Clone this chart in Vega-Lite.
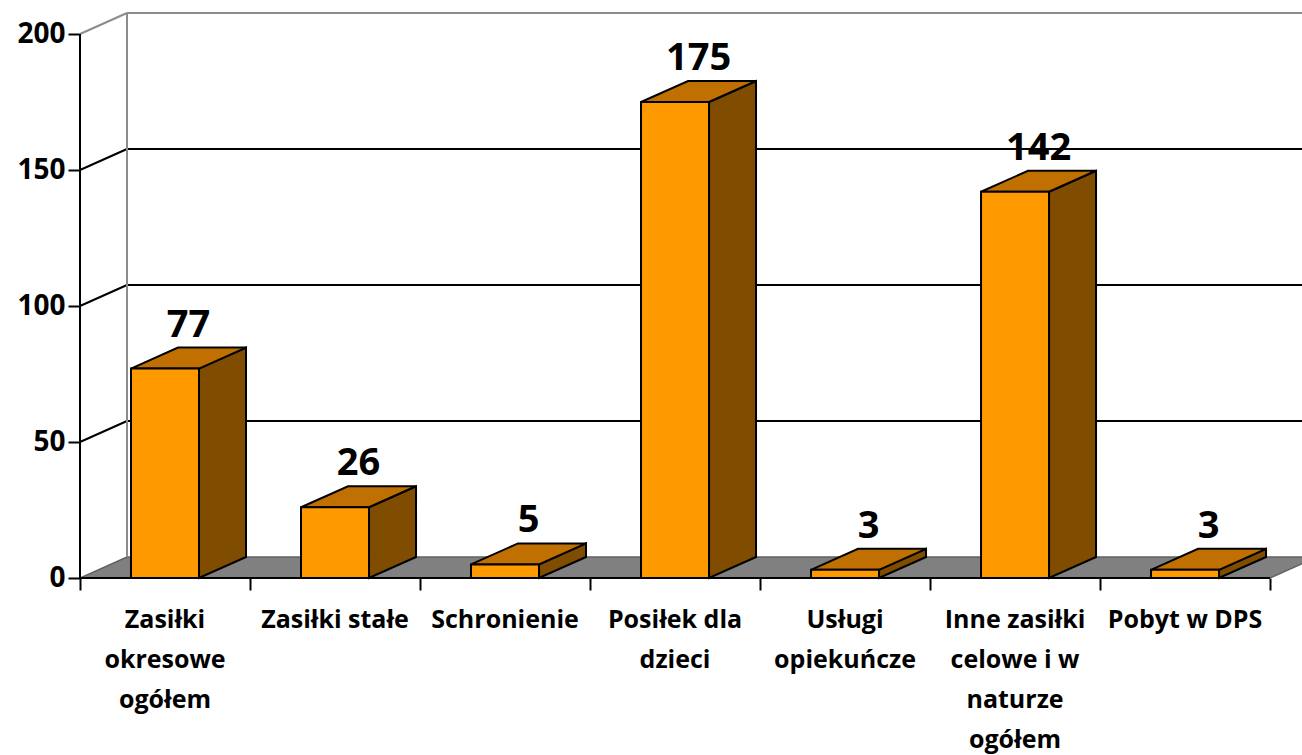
{
  "$schema": "https://vega.github.io/schema/vega-lite/v6.json",
  "width": 1222,
  "height": 578,
  "autosize": {"type": "none"},
  "padding": {"left": 80, "top": 0, "right": 0, "bottom": 177},
  "background": "white",
  "config": {
    "view": {"stroke": null},
    "font": "Open Sans",
    "axis": {"grid": false, "domain": false, "title": null, "tickSize": 12, "tickWidth": 2, "tickColor": "black"},
    "axisX": {"labels": false},
    "axisY": {"labelFont": "Open Sans", "labelFontWeight": "bold", "labelFontSize": 28, "labelColor": "black", "labelPadding": 3}
  },
  "datasets": {
    "bars": [
      {"kategoria": "Zasiłki\nokresowe\nogółem", "liczba": 77},
      {"kategoria": "Zasiłki stałe", "liczba": 26},
      {"kategoria": "Schronienie", "liczba": 5},
      {"kategoria": "Posiłek dla\ndzieci", "liczba": 175},
      {"kategoria": "Usługi\nopiekuńcze", "liczba": 3},
      {"kategoria": "Inne zasiłki\ncelowe i w\nnaturze\nogółem", "liczba": 142},
      {"kategoria": "Pobyt w DPS", "liczba": 3}
    ],
    "grid": [{"v": 0}, {"v": 50}, {"v": 100}, {"v": 150}, {"v": 200}]
  },
  "layer": [
    {
      "data": {"name": "grid"},
      "transform": [
        {"filter": "datum.v == 0"},
        {"calculate": "[0,1,2,3]", "as": "k"},
        {"flatten": ["k"]},
        {"calculate": "[0, 0.2765, 7, 7.2765][datum.k]", "as": "fx"},
        {"calculate": "[0, 0, 0, 7.72][datum.k]", "as": "fy"},
        {"calculate": "[0, 7.72, 7.72, 7.72][datum.k]", "as": "fy2"}
      ],
      "mark": {"type": "area", "fill": "#808080", "stroke": "#606060", "strokeWidth": 1.5, "clip": true},
      "encoding": {
        "x": {"field": "fx", "type": "quantitative", "scale": {"domain": [0, 7.188], "nice": false, "zero": false},
          "axis": {"values": [0, 1, 2, 3, 4, 5, 6, 7], "title": null}},
        "y": {"field": "fy", "type": "quantitative", "stack": null, "scale": {"domain": [0, 212.5], "nice": false, "zero": false},
          "axis": {"values": [0, 50, 100, 150, 200], "title": null}},
        "y2": {"field": "fy2"}
      }
    },
    {
      "data": {"name": "grid"},
      "transform": [
        {"filter": "datum.v > 0"},
        {"calculate": "datum.v + 7.72", "as": "vb"},
        {"calculate": "0.2765", "as": "xb"},
        {"calculate": "0", "as": "xf"}
      ],
      "mark": {"type": "rule", "strokeWidth": 2},
      "encoding": {
        "x": {"field": "xf", "type": "quantitative", "scale": {"domain": [0, 7.188], "nice": false, "zero": false}, "axis": {"values": [0, 1, 2, 3, 4, 5, 6, 7], "title": null}},
        "x2": {"field": "xb"},
        "y": {"field": "v", "type": "quantitative", "scale": {"domain": [0, 212.5], "nice": false, "zero": false}, "axis": {"values": [0, 50, 100, 150, 200], "title": null}},
        "y2": {"field": "vb"},
        "stroke": {"condition": {"test": "datum.v == 200", "value": "#8c8c8c"}, "value": "black"}
      }
    },
    {
      "data": {"name": "grid"},
      "transform": [
        {"filter": "datum.v > 0"},
        {"calculate": "datum.v + 7.72", "as": "vb"},
        {"calculate": "0.2765", "as": "xb"},
        {"calculate": "7.4", "as": "xe"}
      ],
      "mark": {"type": "rule", "strokeWidth": 2, "clip": true},
      "encoding": {
        "x": {"field": "xb", "type": "quantitative", "scale": {"domain": [0, 7.188], "nice": false, "zero": false}, "axis": {"values": [0, 1, 2, 3, 4, 5, 6, 7], "title": null}},
        "x2": {"field": "xe"},
        "y": {"field": "vb", "type": "quantitative", "scale": {"domain": [0, 212.5], "nice": false, "zero": false}, "axis": {"values": [0, 50, 100, 150, 200], "title": null}},
        "stroke": {"condition": {"test": "datum.v == 200", "value": "#8c8c8c"}, "value": "black"}
      }
    },
    {
      "data": {"name": "grid"},
      "transform": [
        {"filter": "datum.v == 200"},
        {"calculate": "datum.v + 7.72", "as": "vb"},
        {"calculate": "7.72", "as": "vf"},
        {"calculate": "0.2765", "as": "xb"}
      ],
      "mark": {"type": "rule", "strokeWidth": 2, "stroke": "#8c8c8c"},
      "encoding": {
        "x": {"field": "xb", "type": "quantitative", "scale": {"domain": [0, 7.188], "nice": false, "zero": false}, "axis": {"values": [0, 1, 2, 3, 4, 5, 6, 7], "title": null}},
        "y": {"field": "vf", "type": "quantitative", "scale": {"domain": [0, 212.5], "nice": false, "zero": false}, "axis": {"values": [0, 50, 100, 150, 200], "title": null}},
        "y2": {"field": "vb"}
      }
    },
    {
      "data": {"name": "grid"},
      "transform": [
        {"filter": "datum.v == 200"},
        {"calculate": "0", "as": "xz"},
        {"calculate": "0", "as": "yz"}
      ],
      "mark": {"type": "rule", "strokeWidth": 2, "stroke": "black"},
      "encoding": {
        "x": {"field": "xz", "type": "quantitative", "scale": {"domain": [0, 7.188], "nice": false, "zero": false}, "axis": {"values": [0, 1, 2, 3, 4, 5, 6, 7], "title": null}},
        "y": {"field": "yz", "type": "quantitative", "scale": {"domain": [0, 212.5], "nice": false, "zero": false}, "axis": {"values": [0, 50, 100, 150, 200], "title": null}},
        "y2": {"field": "v"}
      }
    },
    {
      "data": {"name": "grid"},
      "transform": [
        {"filter": "datum.v == 0"},
        {"calculate": "0", "as": "xs"},
        {"calculate": "7", "as": "xe"},
        {"calculate": "0", "as": "yz"}
      ],
      "mark": {"type": "rule", "strokeWidth": 2, "stroke": "black"},
      "encoding": {
        "x": {"field": "xs", "type": "quantitative", "scale": {"domain": [0, 7.188], "nice": false, "zero": false}, "axis": {"values": [0, 1, 2, 3, 4, 5, 6, 7], "title": null}},
        "x2": {"field": "xe"},
        "y": {"field": "yz", "type": "quantitative", "scale": {"domain": [0, 212.5], "nice": false, "zero": false}, "axis": {"values": [0, 50, 100, 150, 200], "title": null}}
      }
    },
    {
      "data": {"name": "bars"},
      "transform": [
        {"window": [{"op": "row_number", "as": "nr"}]},
        {"calculate": "datum.nr - 1", "as": "idx"},
        {"calculate": "[0,1]", "as": "k"},
        {"flatten": ["k"]},
        {"calculate": "datum.idx + 0.7 + datum.k * 0.2765", "as": "sx"},
        {"calculate": "datum.liczba + datum.k * 7.72", "as": "sy"},
        {"calculate": "datum.k * 7.72", "as": "sy2"}
      ],
      "mark": {"type": "area", "fill": "#7F4C00", "stroke": "black", "strokeWidth": 2, "strokeJoin": "miter"},
      "encoding": {
        "x": {"field": "sx", "type": "quantitative", "scale": {"domain": [0, 7.188], "nice": false, "zero": false}, "axis": {"values": [0, 1, 2, 3, 4, 5, 6, 7], "title": null}},
        "y": {"field": "sy", "type": "quantitative", "stack": null, "scale": {"domain": [0, 212.5], "nice": false, "zero": false}, "axis": {"values": [0, 50, 100, 150, 200], "title": null}},
        "y2": {"field": "sy2"},
        "detail": {"field": "kategoria", "type": "nominal"}
      }
    },
    {
      "data": {"name": "bars"},
      "transform": [
        {"window": [{"op": "row_number", "as": "nr"}]},
        {"calculate": "datum.nr - 1", "as": "idx"},
        {"calculate": "[0,1,2,3]", "as": "k"},
        {"flatten": ["k"]},
        {"calculate": "datum.idx + 0.3 + [0, 0.2765, 0.4, 0.6765][datum.k]", "as": "tx"},
        {"calculate": "datum.liczba + [0, 0, 0, 7.72][datum.k]", "as": "ty"},
        {"calculate": "datum.liczba + [0, 7.72, 7.72, 7.72][datum.k]", "as": "ty2"}
      ],
      "mark": {"type": "area", "fill": "#C07000", "stroke": "black", "strokeWidth": 2, "strokeJoin": "miter"},
      "encoding": {
        "x": {"field": "tx", "type": "quantitative", "scale": {"domain": [0, 7.188], "nice": false, "zero": false}, "axis": {"values": [0, 1, 2, 3, 4, 5, 6, 7], "title": null}},
        "y": {"field": "ty", "type": "quantitative", "stack": null, "scale": {"domain": [0, 212.5], "nice": false, "zero": false}, "axis": {"values": [0, 50, 100, 150, 200], "title": null}},
        "y2": {"field": "ty2"},
        "detail": {"field": "kategoria", "type": "nominal"}
      }
    },
    {
      "data": {"name": "bars"},
      "transform": [
        {"window": [{"op": "row_number", "as": "nr"}]},
        {"calculate": "datum.nr - 0.7", "as": "x1"},
        {"calculate": "datum.nr - 0.3", "as": "x2"},
        {"calculate": "0", "as": "base"}
      ],
      "mark": {"type": "rect", "fill": "#FF9900", "stroke": "black", "strokeWidth": 2},
      "encoding": {
        "x": {"field": "x1", "type": "quantitative", "scale": {"domain": [0, 7.188], "nice": false, "zero": false}, "axis": {"values": [0, 1, 2, 3, 4, 5, 6, 7], "title": null}},
        "x2": {"field": "x2"},
        "y": {"field": "base", "type": "quantitative", "scale": {"domain": [0, 212.5], "nice": false, "zero": false}, "axis": {"values": [0, 50, 100, 150, 200], "title": null}},
        "y2": {"field": "liczba"}
      }
    },
    {
      "data": {"name": "bars"},
      "transform": [
        {"window": [{"op": "row_number", "as": "nr"}]},
        {"calculate": "datum.nr - 0.5 + 0.1383", "as": "lx"},
        {"calculate": "datum.liczba + 7.72", "as": "ly"}
      ],
      "mark": {"type": "text", "font": "Open Sans", "fontWeight": "bold", "fontSize": 38, "color": "black", "align": "center", "baseline": "alphabetic", "dy": -11},
      "encoding": {
        "x": {"field": "lx", "type": "quantitative", "scale": {"domain": [0, 7.188], "nice": false, "zero": false}, "axis": {"values": [0, 1, 2, 3, 4, 5, 6, 7], "title": null}},
        "y": {"field": "ly", "type": "quantitative", "scale": {"domain": [0, 212.5], "nice": false, "zero": false}, "axis": {"values": [0, 50, 100, 150, 200], "title": null}},
        "text": {"field": "liczba", "type": "quantitative"}
      }
    },
    {
      "data": {"name": "bars"},
      "transform": [
        {"window": [{"op": "row_number", "as": "nr"}]},
        {"calculate": "datum.nr - 0.5", "as": "cx"},
        {"calculate": "0", "as": "cy"}
      ],
      "mark": {"type": "text", "font": "Open Sans", "fontWeight": "bold", "fontSize": 25, "color": "black", "align": "center", "baseline": "top", "dy": 30, "lineBreak": "\n", "lineHeight": 40},
      "encoding": {
        "x": {"field": "cx", "type": "quantitative", "scale": {"domain": [0, 7.188], "nice": false, "zero": false}, "axis": {"values": [0, 1, 2, 3, 4, 5, 6, 7], "title": null}},
        "y": {"field": "cy", "type": "quantitative", "scale": {"domain": [0, 212.5], "nice": false, "zero": false}, "axis": {"values": [0, 50, 100, 150, 200], "title": null}},
        "text": {"field": "kategoria", "type": "nominal"}
      }
    }
  ]
}
